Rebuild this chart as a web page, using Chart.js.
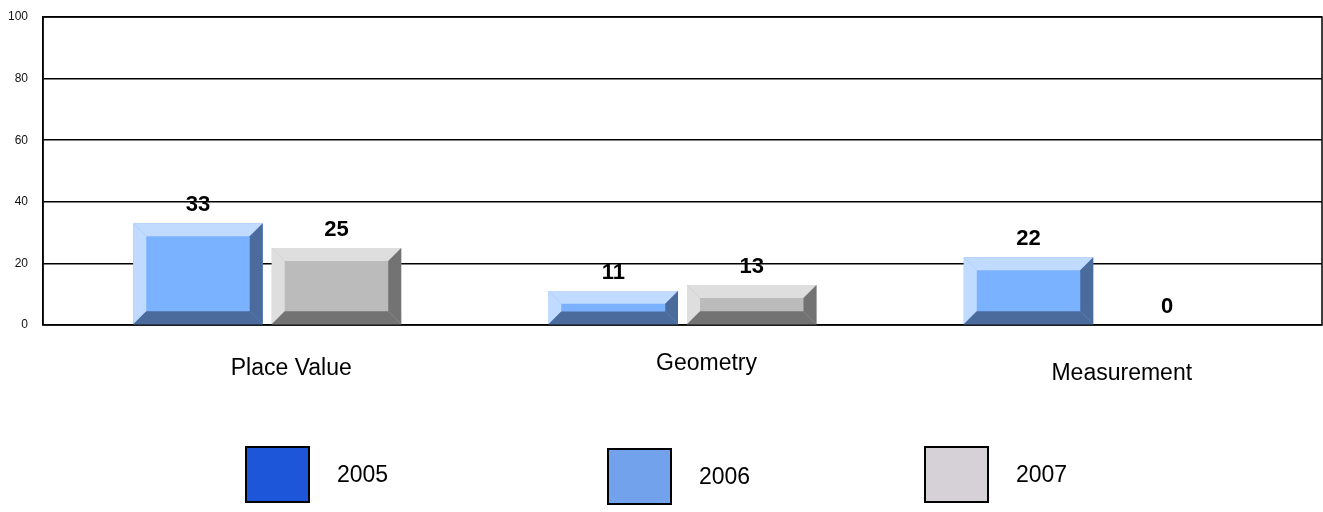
<!DOCTYPE html>
<html>
<head>
<meta charset="utf-8">
<script src="https://cdn.jsdelivr.net/npm/chart.js@4.4.0/dist/chart.umd.min.js"></script>
<style>
  body { margin: 0; background: #fff; }
  #wrap { width: 1323px; height: 512px; position: relative; }
</style>
</head>
<body>
<div id="wrap"><canvas id="chart"></canvas></div>
<script>
// chart values
var categories = ['Place Value', 'Geometry', 'Measurement'];
var years = ['2005', '2006', '2007'];
var values2005 = [null, null, null];
var values2006 = [33, 11, 22];
var values2007 = [25, 13, 0];
var yTicks = [0, 20, 40, 60, 80, 100];

var faceColors = ['#1f57dc', '#7ab2ff', '#bbbbbb'];
var lightColors = ['#4f7fe6', '#c0dbff', '#dedede'];
var darkColors = ['#163e9c', '#4a6b9b', '#737373'];
var legendColors = ['#1e56da', '#72a2ec', '#d5d1d7'];

var toPoints = function(arr) {
    return arr.map(function(v, i) { return {x: i, y: v}; });
};

// 3d bevel look for the bars
var bevelPlugin = {
    id: 'bevel',
    beforeDatasetsDraw: function(chart) {
        var ctx = chart.ctx, a = chart.chartArea;
        ctx.save();
        ctx.strokeStyle = '#000';
        ctx.lineWidth = 1.5;
        ctx.strokeRect(a.left, a.top, a.right - a.left, a.bottom - a.top);
        ctx.restore();
    },
    afterDatasetsDraw: function(chart) {
        var ctx = chart.ctx;
        ctx.save();
        chart.data.datasets.forEach(function(ds, di) {
            var meta = chart.getDatasetMeta(di);
            meta.data.forEach(function(bar, i) {
                var v = ds.data[i].y;
                if (v === null) return;
                var L = bar.x - bar.width / 2, R = bar.x + bar.width / 2;
                var T = bar.y, B = bar.base;
                var h = B - T;
                if (h > 0.5) {
                    var b = Math.min(13, h / 2.6);
                    var poly = function(pts, col) {
                        ctx.beginPath();
                        ctx.moveTo(pts[0][0], pts[0][1]);
                        for (var k = 1; k < pts.length; k++) ctx.lineTo(pts[k][0], pts[k][1]);
                        ctx.closePath();
                        ctx.fillStyle = col;
                        ctx.fill();
                    };
                    poly([[L, T], [R, T], [R - b, T + b], [L + b, T + b]], lightColors[di]);
                    poly([[L, T], [L + b, T + b], [L + b, B - b], [L, B]], lightColors[di]);
                    poly([[R, T], [R, B], [R - b, B - b], [R - b, T + b]], darkColors[di]);
                    poly([[L, B], [R, B], [R - b, B - b], [L + b, B - b]], darkColors[di]);
                }
                ctx.fillStyle = '#000';
                ctx.font = 'bold 22px "Liberation Sans", Arial, sans-serif';
                ctx.textAlign = 'center';
                ctx.textBaseline = 'middle';
                ctx.fillText(String(v), bar.x, T - 18);
            });
        });
        ctx.restore();
    },
    afterDraw: function(chart) {
        var ctx = chart.ctx;
        var xs = chart.scales.x;
        var labelY = [369, 364, 374];
        ctx.save();
        ctx.fillStyle = '#000';
        ctx.font = '23px "Liberation Sans", Arial, sans-serif';
        ctx.textAlign = 'center';
        ctx.textBaseline = 'middle';
        categories.forEach(function(c, i) {
            ctx.fillText(c, xs.getPixelForValue(i) + 24, labelY[i]);
        });

        // legend
        var boxX = [246, 608, 925];
        var boxY = [447, 449, 447];
        ctx.textAlign = 'left';
        years.forEach(function(y, i) {
            ctx.fillStyle = legendColors[i];
            ctx.fillRect(boxX[i], boxY[i], 63, 55);
            ctx.strokeStyle = '#000';
            ctx.lineWidth = 2;
            ctx.strokeRect(boxX[i], boxY[i], 63, 55);
            ctx.fillStyle = '#000';
            ctx.fillText(y, boxX[i] + 63 + 28, boxY[i] + 29);
        });
        ctx.restore();
    }
};

var chardata = {
    datasets: [
        { label: years[0], data: toPoints(values2005), backgroundColor: faceColors[0] },
        { label: years[1], data: toPoints(values2006), backgroundColor: faceColors[1] },
        { label: years[2], data: toPoints(values2007), backgroundColor: faceColors[2] }
    ]
};

var ctx = document.getElementById('chart');

var barGraph = new Chart(ctx, {
    type: 'bar',
    data: chardata,
    plugins: [bevelPlugin],
    options: {
        responsive: true,
        maintainAspectRatio: false,
        animation: false,
        skipNull: true,
        categoryPercentage: 0.667,
        barPercentage: 0.935,
        layout: { padding: { top: 17, right: 1, bottom: 187, left: 0 } },
        plugins: { legend: { display: false }, tooltip: { enabled: false } },
        scales: {
            x: {
                type: 'linear',
                min: -0.54,
                max: 2.54,
                offset: false,
                display: false,
                grid: { offset: false },
                afterBuildTicks: function(s) {
                    s.ticks = categories.map(function(c, i) { return {value: i}; });
                }
            },
            y: {
                min: 0,
                max: 100,
                afterFit: function(s) {
                    s.width = 43;
                    s.paddingTop = 0;
                    s.paddingBottom = 0;
                },
                afterBuildTicks: function(s) {
                    s.ticks = yTicks.map(function(v) { return {value: v}; });
                },
                grid: { color: '#000', lineWidth: 1.5, drawTicks: false },
                border: { color: '#000', width: 1.5 },
                ticks: {
                    padding: 15,
                    color: '#111',
                    font: { family: '"Liberation Sans", Arial, sans-serif', size: 12 }
                }
            }
        }
    }
});
</script>
</body>
</html>
